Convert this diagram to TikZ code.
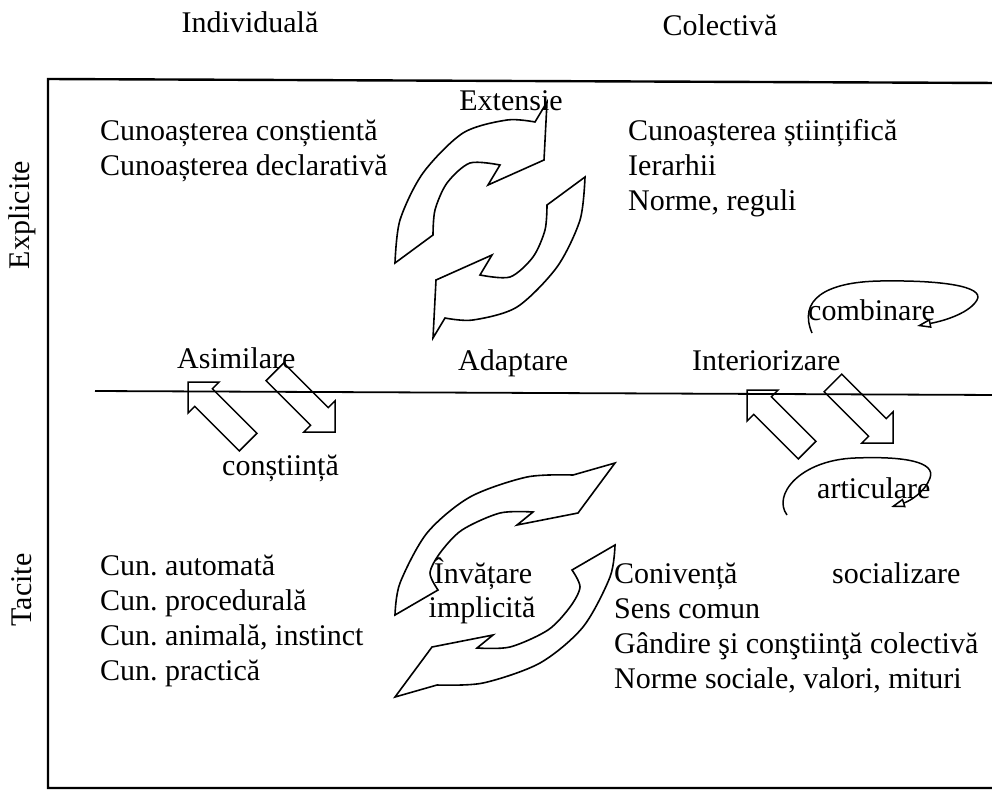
\documentclass[tikz,border=0pt]{standalone}
\usepackage{fontspec}
\setmainfont{Liberation Serif}
\usetikzlibrary{arrows.meta}
\newcommand\blockarrow[2]{\draw[blockarr, shift={(#1)}, rotate=#2] (0,0) -- (-22,22) -- (-22,12.5) -- (-85,12.5) -- (-85,-12.5) -- (-22,-12.5) -- (-22,-22) -- cycle;}
\frenchspacing
\begin{document}
\begin{tikzpicture}[x=1pt,y=-1pt,
  lbl/.style={font=\fontsize{30}{35}\selectfont, inner sep=0pt, anchor=base},
  lft/.style={lbl, anchor=base west},
  frame/.style={line width=2.4pt},
  midline/.style={line width=1.8pt},
  curvarrow/.style={line width=1.6pt, line join=miter},
  blockarr/.style={line width=1.5pt, line join=miter},
  loopy/.style={line width=1.5pt, -{Triangle[open, length=14pt, width=9pt]}}]
\useasboundingbox (0,0) rectangle (992,790);
% frame
\coordinate (tr) at (1000,83);
\coordinate (tl) at (48,79);
\coordinate (bl) at (48,788);
\coordinate (br) at (1000,788);
\draw[frame] (tr) -- (tl) -- (bl) -- (br);
\coordinate (ml) at (95,391);
\coordinate (mr) at (1000,395);
\draw[midline] (ml) -- (mr);
% headers
\node[lbl] (indiv) at (250,32) {Individuală};
\node[lbl] (colect) at (720,35) {Colectivă};
\node[lbl, rotate=90, anchor=center] (expl) at (22,215) {Explicite};
\node[lbl, rotate=90, anchor=center] (tac) at (22,590) {Tacite};
% top pair of curved arrows
\begin{scope}
\draw[curvarrow] plot[smooth] coordinates {(395,263) (400,220) (423,173) (463,133) (507,120) (535,122)}
  -- (547,102) -- (544,160) -- (488,185) -- (500,165)
  -- plot[smooth] coordinates {(500,165) (470,163) (447,183) (435,210) (433,235)} -- cycle;
\end{scope}
\begin{scope}[rotate around={180:(490,220)}]
\draw[curvarrow] plot[smooth] coordinates {(395,263) (400,220) (423,173) (463,133) (507,120) (535,122)}
  -- (547,102) -- (544,160) -- (488,185) -- (500,165)
  -- plot[smooth] coordinates {(500,165) (470,163) (447,183) (435,210) (433,235)} -- cycle;
\end{scope}
% bottom pair of curved arrows
\begin{scope}
\draw[curvarrow] plot[smooth] coordinates {(395,615) (400,583) (427,533) (470,497) (527,477) (573,475)}
  -- (615,463) -- (578,513) -- (517,525) -- (533,512)
  -- plot[smooth] coordinates {(533,512) (500,513) (462,530) (440,553) (430,573) (438,590)} -- cycle;
\end{scope}
\begin{scope}[rotate around={180:(505,580)}]
\draw[curvarrow] plot[smooth] coordinates {(395,615) (400,583) (427,533) (470,497) (527,477) (573,475)}
  -- (615,463) -- (578,513) -- (517,525) -- (533,512)
  -- plot[smooth] coordinates {(533,512) (500,513) (462,530) (440,553) (430,573) (438,590)} -- cycle;
\end{scope}
% straight block arrows
\coordinate (la) at (188,382);
\coordinate (lb) at (335,432);
\coordinate (ra) at (747,390);
\coordinate (rb) at (893,443);
\blockarrow{la}{135}
\blockarrow{lb}{-45}
\blockarrow{ra}{135}
\blockarrow{rb}{-45}
% loops
\coordinate (cbs) at (812,333);
\coordinate (cbe) at (917,326);
\draw[loopy] (cbs) .. controls (798,300) and (825,282) .. (880,281) .. controls (940,280) and (985,286) .. (977,300) .. controls (970,312) and (948,320) .. (cbe);
\coordinate (ars) at (787,515);
\coordinate (are) at (891,507);
\draw[loopy] (ars) .. controls (772,495) and (800,460) .. (855,458) .. controls (905,456) and (936,462) .. (930,478) .. controls (925,492) and (910,501) .. (are);
% texts
\node[lft] (c1) at (100,140) {Cunoașterea conștientă};
\node[lft] (c2) at (100,175) {Cunoașterea declarativă};
\node[lbl] (ext) at (511,110) {Extensie};
\node[lft] (s1) at (628,140) {Cunoașterea științifică};
\node[lft] (s2) at (628,175) {Ierarhii};
\node[lft] (s3) at (628,210) {Norme, reguli};
\node[lft] (comb) at (808,320) {combinare};
\node[lft] (asim) at (177,368) {Asimilare};
\node[lft] (adap) at (458,370) {Adaptare};
\node[lft] (inter) at (692,370) {Interiorizare};
\node[lft] (cons) at (222,475) {conștiință};
\node[lft] (artic) at (817,498) {articulare};
\node[lft] (soc) at (832,583) {socializare};
\node[lft] (k1) at (614,583) {Conivență};
\node[lft] (k2) at (614,618) {Sens comun};
\node[lft] (k3) at (614,653) {Gândire şi conştiinţă colectivă};
\node[lft] (k4) at (614,688) {Norme sociale, valori, mituri};
\node[lbl] (inv1) at (483,583) {Învățare};
\node[lbl] (inv2) at (482,617) {implicită};
\node[lft] (a1) at (100,575) {Cun. automată};
\node[lft] (a2) at (100,610) {Cun. procedurală};
\node[lft] (a3) at (100,645) {Cun. animală, instinct};
\node[lft] (a4) at (100,680) {Cun. practică};
\end{tikzpicture}
\end{document}
